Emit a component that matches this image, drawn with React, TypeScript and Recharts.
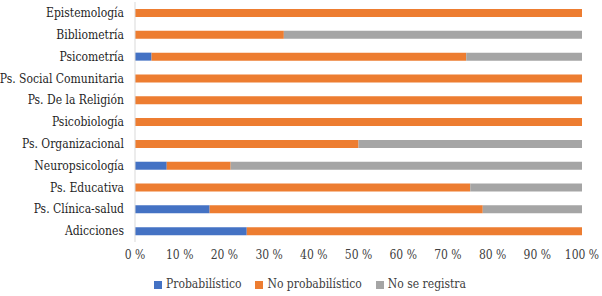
import React from 'react';
import { BarChart, Bar, XAxis, YAxis, Legend } from 'recharts';

const categories = [
  'Epistemología',
  'Bibliometría',
  'Psicometría',
  'Ps. Social Comunitaria',
  'Ps. De la Religión',
  'Psicobiología',
  'Ps. Organizacional',
  'Neuropsicología',
  'Ps. Educativa',
  'Ps. Clínica-salud',
  'Adicciones',
];

const probabilistico = [0, 0, 3.7, 0, 0, 0, 0, 7.1, 0, 16.7, 25];
const noProbabilistico = [100, 33.3, 70.4, 100, 100, 100, 50, 14.3, 75, 61.1, 75];
const noSeRegistra = [0, 66.7, 25.9, 0, 0, 0, 50, 78.6, 25, 22.2, 0];

const seriesNames = ['Probabilístico', 'No probabilístico', 'No se registra'];

const xTicks = [0, 10, 20, 30, 40, 50, 60, 70, 80, 90, 100];

const data = categories.map((name, i) => ({
  name,
  prob: probabilistico[i],
  noProb: noProbabilistico[i],
  noReg: noSeRegistra[i],
}));

const font = '"DejaVu Serif Condensed", "DejaVu Serif"';

// plain text tick so long category names don't wrap
const CategoryTick = (props: any) => {
  const { x, y, payload } = props;
  return (
    <text x={x} y={y} dy="0.35em" textAnchor="end" fill="#1f1f1f" fontSize={12} style={{ fontFamily: font }}>
      {payload.value}
    </text>
  );
};

const App = () => {
  return (
    <div style={{ position: 'absolute', left: 0, top: 0, width: 602, height: 296, background: '#fff', fontFamily: font }}>
      <BarChart
        width={602}
        height={296}
        data={data}
        layout="vertical"
        barSize={8}
        margin={{ top: 2, right: 20, left: 0, bottom: 2 }}
      >
        <XAxis
          type="number"
          domain={[0, 100]}
          ticks={xTicks}
          tickFormatter={(v) => `${v} %`}
          axisLine={false}
          tickLine={false}
          tick={{ fill: '#404040', fontSize: 12, style: { fontFamily: font } }}
          height={32}
          interval={0}
        />
        <YAxis
          type="category"
          dataKey="name"
          width={135}
          axisLine={{ stroke: '#d9d9d9' }}
          tickLine={false}
          tickSize={0}
          tickMargin={11}
          interval={0}
          tick={<CategoryTick />}
        />
        <Legend
          verticalAlign="bottom"
          align="center"
          iconType="square"
          iconSize={8}
          itemSorter={(item: any) => seriesNames.indexOf(item.value)}
          wrapperStyle={{ fontSize: 12, fontFamily: font, lineHeight: '20px', left: 26 }}
          formatter={(value) => <span style={{ color: '#404040', marginRight: 4, fontFamily: font }}>{value}</span>}
        />
        <Bar dataKey="prob" name={seriesNames[0]} stackId="a" fill="#4472C4" isAnimationActive={false} />
        <Bar dataKey="noProb" name={seriesNames[1]} stackId="a" fill="#ED7D31" isAnimationActive={false} />
        <Bar dataKey="noReg" name={seriesNames[2]} stackId="a" fill="#A5A5A5" isAnimationActive={false} />
      </BarChart>
    </div>
  );
};

export default App;
